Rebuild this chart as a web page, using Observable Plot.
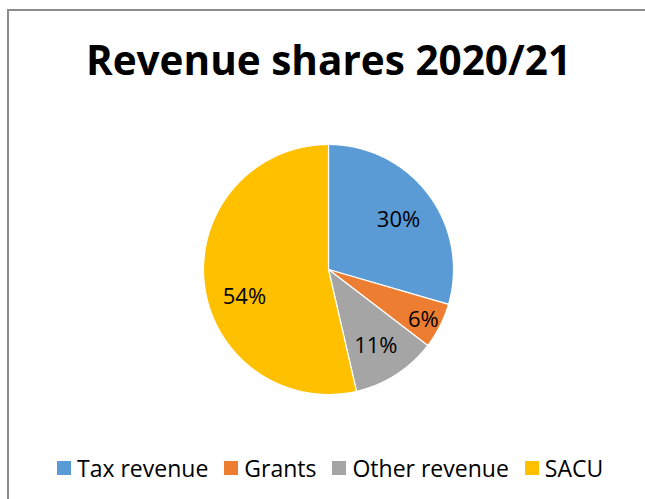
<!DOCTYPE html>
<html>
<head>
<meta charset="utf-8">
<script src="https://cdn.jsdelivr.net/npm/d3@7"></script>
<script src="https://cdn.jsdelivr.net/npm/@observablehq/plot@0.6"></script>
<style>
  html, body { margin: 0; padding: 0; background: #fff; }
  body { width: 645px; height: 499px; position: relative; overflow: hidden; font-family: "Open Sans", "Liberation Sans", sans-serif; }
  #frame { position: absolute; left: 7px; top: 9px; width: 645px; height: 500px; border-top: 2px solid #8c8c8c; border-left: 2px solid #8c8c8c; box-sizing: border-box; }
  #title { position: absolute; left: 0; width: 657px; top: 32px; line-height: normal; text-align: center; font-weight: 700; font-size: 40.5px; color: #000; white-space: nowrap; }
  #chart { position: absolute; left: 0; top: 134px; }
  #legend { position: absolute; left: 57px; top: 452px; height: 32px; display: flex; align-items: center; font-size: 23px; color: #000; white-space: nowrap; }
  .item { display: flex; align-items: center; margin-right: 16px; }
  .sw { width: 14px; height: 14px; margin-right: 6px; }
</style>
</head>
<body>
<div id="frame"></div>
<div id="title">Revenue shares 2020/21</div>
<div id="chart"></div>
<div id="legend"></div>
<script>
const categories = ["Tax revenue", "Grants", "Other revenue", "SACU"];
const shares = [29.5, 5.9, 11.0, 53.6];
const shareLabels = ["30%", "6%", "11%", "54%"];
const colors = ["#5B9BD5", "#ED7D31", "#A5A5A5", "#FFC000"];

const total = d3.sum(shares);
const pts = [];
const labelPts = [];
let start = 0;
categories.forEach((c, i) => {
  const a0 = start / total * 2 * Math.PI;
  const a1 = (start + shares[i]) / total * 2 * Math.PI;
  pts.push({cat: c, x: 0, y: 0});
  const n = Math.max(2, Math.ceil((a1 - a0) / (Math.PI / 360)));
  for (let k = 0; k <= n; k++) {
    const a = a0 + (a1 - a0) * k / n;
    pts.push({cat: c, x: Math.sin(a), y: Math.cos(a)});
  }
  const frac = shares[i] / total;
  // best-fit style: small slices pushed outward, the largest slice label nudged toward its lower half
  const am = frac > 0.5 ? a0 + (a1 - a0) * 0.45 : (a0 + a1) / 2;
  const r = frac < 0.08 ? 0.85 : 0.7;
  labelPts.push({cat: c, label: shareLabels[i], x: r * Math.sin(am), y: r * Math.cos(am)});
  start += shares[i];
});

const R = 125, cx = 328, width = 645, height = 270;
const plot = Plot.plot({
  width, height,
  marginLeft: cx - R, marginRight: width - cx - R,
  marginTop: height / 2 - R, marginBottom: height / 2 - R,
  x: {domain: [-1, 1], axis: null},
  y: {domain: [-1, 1], axis: null},
  color: {domain: categories, range: colors},
  marks: [
    Plot.line(pts, {x: "x", y: "y", z: "cat", fill: "cat", stroke: "white", strokeWidth: 1.2, curve: "linear-closed"}),
    Plot.text(labelPts, {x: "x", y: "y", text: "label", fontSize: 22, dy: 3, fill: "#000", fontFamily: "Open Sans"})
  ]
});
plot.style.fontFamily = "'Open Sans', sans-serif";
document.getElementById("chart").appendChild(plot);

const legend = document.getElementById("legend");
categories.forEach((c, i) => {
  const item = document.createElement("div");
  item.className = "item";
  const sw = document.createElement("div");
  sw.className = "sw";
  sw.style.background = colors[i];
  const t = document.createElement("span");
  t.textContent = c;
  item.appendChild(sw);
  item.appendChild(t);
  legend.appendChild(item);
});
</script>
</body>
</html>
